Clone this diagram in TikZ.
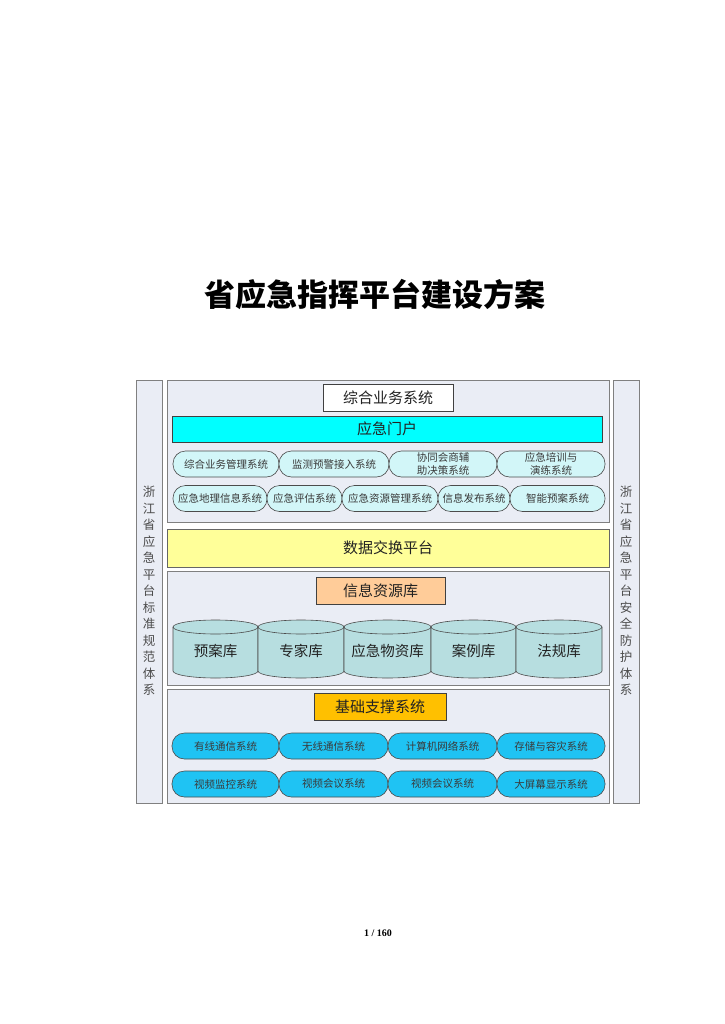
\documentclass[tikz,border=0pt]{standalone}
\usepackage{fontspec}
\setmainfont{Liberation Serif}
\newfontfamily\cjk{Noto Sans CJK SC}
\definecolor{panelbg}{HTML}{EAEDF5}
\definecolor{panelborder}{HTML}{808080}
\definecolor{pillA}{HTML}{D2F6F8}
\definecolor{pillB}{HTML}{1FC3F3}
\definecolor{portal}{HTML}{00FFFF}
\definecolor{xchg}{HTML}{FFFF99}
\definecolor{resbox}{HTML}{FFCC99}
\definecolor{basebox}{HTML}{FFC000}
\definecolor{cylfill}{HTML}{B7DEE0}
\definecolor{txtdark}{HTML}{222222}
\definecolor{txtpill}{HTML}{3A3A3A}
\tikzset{
  panel/.style={draw=panelborder, fill=panelbg, line width=0.8pt, anchor=north west, inner sep=0pt},
  headbox/.style={draw=black!75, line width=0.7pt, inner sep=0pt, text=txtdark, font=\cjk\fontsize{15}{15}\selectfont},
  pill/.style={draw=black!70, line width=0.6pt, rounded corners=12.5pt, minimum height=26pt, inner sep=0pt, text=txtpill, align=center, font=\cjk\fontsize{10.5}{13}\selectfont},
  pillup/.style={pill, fill=pillA},
  pilldown/.style={pill, fill=pillB},
  cylline/.style={draw=black!70, line width=0.6pt},
  cyltext/.style={text=txtdark, font=\cjk\fontsize{14.5}{15}\selectfont, inner sep=0pt},
  sidetext/.style={text=black!70, align=center, font=\cjk\fontsize{12.5}{16.5}\selectfont, inner sep=0pt}
}
\begin{document}
\begin{tikzpicture}[x=1pt,y=-1pt]
\useasboundingbox (0,0) rectangle (724,1024);
\fill[white] (0,0) rectangle (724,1024);

% title
\node[font=\cjk\bfseries\fontsize{31}{31}\selectfont, text=black] (title) at (375,295) {省应急指挥平台建设方案};

% side columns
\node[panel, minimum width=26pt, minimum height=423pt] (leftcol) at (136,380) {};
\node[panel, minimum width=26pt, minimum height=423pt] (rightcol) at (613,380) {};
\node[sidetext] (lefttext) at (149,591) {浙\\江\\省\\应\\急\\平\\台\\标\\准\\规\\范\\体\\系};
\node[sidetext] (righttext) at (626,591) {浙\\江\\省\\应\\急\\平\\台\\安\\全\\防\\护\\体\\系};

% top panel
\node[panel, minimum width=442pt, minimum height=142pt] (toppanel) at (167,380) {};
\node[headbox, fill=white, minimum width=130pt, minimum height=27pt] (zonghe) at (388,397.5) {综合业务系统};
\node[headbox, fill=portal, minimum width=430pt, minimum height=26pt] (portal) at (387,429) {应急门户};

\node[pillup, minimum width=106pt] (p11) at (226,464) {综合业务管理系统};
\node[pillup, minimum width=110pt] (p12) at (334,464) {监测预警接入系统};
\node[pillup, minimum width=108pt] (p13) at (443,464) {协同会商辅\\助决策系统};
\node[pillup, minimum width=108pt] (p14) at (551,464) {应急培训与\\演练系统};

\node[pillup, minimum width=94pt] (p21) at (220,498.5) {应急地理信息系统};
\node[pillup, minimum width=75pt] (p22) at (304.5,498.5) {应急评估系统};
\node[pillup, minimum width=96pt] (p23) at (390,498.5) {应急资源管理系统};
\node[pillup, minimum width=72pt] (p24) at (474,498.5) {信息发布系统};
\node[pillup, minimum width=95pt] (p25) at (557.5,498.5) {智能预案系统};

% exchange platform
\node[panel, fill=xchg, draw=black!60, minimum width=442pt, minimum height=38pt] (xchg) at (167,529) {};
\node[text=txtdark, font=\cjk\fontsize{15}{15}\selectfont] (xchgtext) at (388,548) {数据交换平台};

% info resource panel
\node[panel, minimum width=442pt, minimum height=114pt] (infopanel) at (167,571) {};
\node[headbox, fill=resbox, minimum width=129pt, minimum height=27pt] (res) at (380.5,590.5) {信息资源库};

\foreach \L/\R/\n/\t in {173/258/c1/预案库, 258/344/c2/专家库, 344/431/c3/应急物资库, 431/516/c4/案例库, 516/602/c5/法规库}{
  \pgfmathsetmacro\rx{(\R-\L)/2}
  \pgfmathsetmacro\cx{(\L+\R)/2}
  \fill[cylfill] (\L,627) -- (\L,671) arc[start angle=180,end angle=360,x radius=\rx pt,y radius=7pt] -- (\R,627) arc[start angle=0,end angle=180,x radius=\rx pt,y radius=7pt] -- cycle;
  \draw[cylline] (\L,627) -- (\L,671) arc[start angle=180,end angle=360,x radius=\rx pt,y radius=7pt] -- (\R,627);
  \draw[cylline] (\cx,627) ellipse [x radius=\rx pt, y radius=7pt];
  \node[cyltext] (\n) at (\cx,651) {\t};
}

% base panel
\node[panel, minimum width=442pt, minimum height=114pt] (basepanel) at (167,689) {};
\node[headbox, fill=basebox, minimum width=132pt, minimum height=27pt] (base) at (380,706.5) {基础支撑系统};

\node[pilldown, minimum width=107pt] (b11) at (225.5,746) {有线通信系统};
\node[pilldown, minimum width=109pt] (b12) at (333.5,746) {无线通信系统};
\node[pilldown, minimum width=109pt] (b13) at (442.5,746) {计算机网络系统};
\node[pilldown, minimum width=108pt] (b14) at (551,746) {存储与容灾系统};
\node[pilldown, minimum width=107pt] (b21) at (225.5,784) {视频监控系统};
\node[pilldown, minimum width=109pt] (b22) at (333.5,784) {视频会议系统};
\node[pilldown, minimum width=109pt] (b23) at (442.5,784) {视频会议系统};
\node[pilldown, minimum width=108pt] (b24) at (551,784) {大屏幕显示系统};

% page number
\node[font=\bfseries\fontsize{10}{10}\selectfont] (pagenum) at (378,933) {1 / 160};
\end{tikzpicture}
\end{document}
